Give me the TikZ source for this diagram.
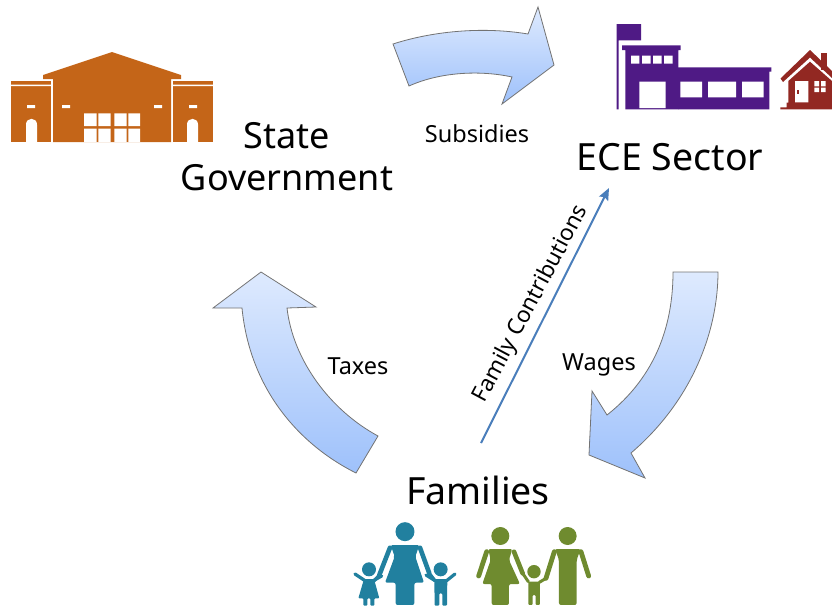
\documentclass[tikz,border=0pt]{standalone}
\usetikzlibrary{arrows.meta}
\usepackage{fontspec}
\setmainfont{Noto Sans}
\definecolor{stateorange}{HTML}{C46518}
\definecolor{schoolpurple}{HTML}{4F1A85}
\definecolor{housered}{HTML}{922822}
\definecolor{famteal}{HTML}{21809F}
\definecolor{famgreen}{HTML}{6F8B2F}
\definecolor{linkblue}{HTML}{4A7EBB}
\definecolor{arrowtop}{HTML}{DEEAFE}
\definecolor{arrowbot}{HTML}{9EC1FB}
\tikzset{
  bigarrow/.style={draw=black!55,line width=0.8pt,line join=miter,top color=arrowtop,bottom color=arrowbot},
  biglabel/.style={font=\fontsize{37.5}{42}\selectfont,align=center,text=black,inner sep=0pt},
  smalllabel/.style={font=\fontsize{23.5}{27}\selectfont,text=black,inner sep=0pt},
  limb/.style={line width=#1,line cap=round,line join=round},
  limb/.default=1.7pt
}
\begin{document}
\begin{tikzpicture}[x=1pt,y=-1pt]
\useasboundingbox (0,0) rectangle (832,608);
% block arrows
\path[bigarrow] (393,44) .. controls (430,32) and (480,26) .. (528,34) -- (538,7) -- (554,65) -- (502,104) -- (512,77) .. controls (480,70) and (440,72) .. (409,86) -- cycle;
\path[bigarrow] (673,272) -- (718,272) .. controls (718,330) and (693,400) .. (631,453) -- (645,478) -- (589,455) -- (592,391) -- (607,415) .. controls (645,385) and (673,340) .. (673,272) -- cycle;
\path[bigarrow] (261,272) -- (316,307) -- (287,308) .. controls (293,360) and (330,410) .. (378,436) -- (356,473) .. controls (300,445) and (250,390) .. (242,308) -- (213,308) -- cycle;
% labels
\node[biglabel,font=\fontsize{36}{42}\selectfont] (state) at (287,157) {State\\Government};
\node[biglabel] (ece) at (670,157) {ECE Sector};
\node[biglabel] (fam) at (478,490) {Families};
\node[smalllabel] (subs) at (477,134) {Subsidies};
\node[smalllabel] (tax) at (358,366) {Taxes};
\node[smalllabel] (wage) at (599,365) {Wages};
\coordinate (fcStart) at (481,443);
\coordinate (fcEnd) at (609,188);
\draw[linkblue,line width=2pt,-{Stealth[length=12pt,width=10pt,inset=2pt]}] (fcStart) -- (fcEnd);
\node[smalllabel,font=\fontsize{22.5}{27}\selectfont,rotate=62] (contrib) at (531,304) {Family Contributions};
% state building
\fill[stateorange] (43,75) -- (112,52) -- (181,75) -- (181,79) -- (171,79) -- (171,142) -- (53,142) -- (53,79) -- (43,79) -- cycle;
\fill[stateorange] (11,81) rectangle (51,142);
\fill[stateorange] (173,81) rectangle (213,142);
\fill[white] (11,84.5) rectangle (51,86) (173,84.5) rectangle (213,86);
\fill[white] (27,105) rectangle (35,108) (62,105) rectangle (70,108) (154,105) rectangle (162,108) (189,105) rectangle (197,108);
\fill[white] (26,142) -- (26,124.5) .. controls (26,117) and (37,117) .. (37,124.5) -- (37,142) -- cycle;
\fill[white] (187,142) -- (187,124.5) .. controls (187,117) and (198,117) .. (198,124.5) -- (198,142) -- cycle;
\fill[white] (84,113.3) rectangle (96.7,126) (98.3,113.3) rectangle (110.7,126) (114.3,113.3) rectangle (126.7,126) (128.3,113.3) rectangle (140,126);
\fill[white] (84,128.7) rectangle (96.7,142) (98.3,128.7) rectangle (110.7,142) (114.3,128.7) rectangle (126.7,142) (128.3,128.7) rectangle (140,142);
% school
\fill[schoolpurple] (616.7,24) rectangle (618.7,109.3) (616.7,24) rectangle (641,40.3);
\fill[schoolpurple] (622,45.3) rectangle (680.7,50) (625.3,50) rectangle (678.3,109.3);
\fill[schoolpurple] (678,67.3) rectangle (771.3,71.7) (678,71.7) rectangle (769.3,109.3);
\fill[white] (631,55.7) rectangle (639.3,63.7) (642,55.7) rectangle (650.7,63.7) (653,55.7) rectangle (661.7,63.7) (664,55.7) rectangle (672.7,63.7);
\fill[white] (639.3,81.7) rectangle (665.7,108) (680.3,81.7) rectangle (702,97.3) (708,81.7) rectangle (736,97.3) (742,81.7) rectangle (763.7,97.3);
% house
\fill[housered] (821,52.7) rectangle (827.3,70);
\fill[housered] (780.5,78.5) -- (810,50) -- (832,71) -- (832,78) -- (810,57.5) -- (783,82) -- cycle;
\fill[housered] (810,61.7) -- (788.3,81) -- (788.3,102.7) -- (786.7,102.7) -- (786.7,107.3) -- (780.3,107.3) -- (780.3,109.3) -- (832,109.3) -- (832,81) -- cycle;
\fill[white] (795,81) rectangle (808.3,102.3) (814.3,81) rectangle (819,86.3) (821,81) rectangle (825.7,86.3) (814.3,87.7) rectangle (819,92) (821,87.7) rectangle (825.7,92);
\fill[housered] (797.3,90) rectangle (799,94);
% family left (teal)
\begin{scope}[shift={(340,510)},x=0.3333pt,y=-0.3333pt]
\begin{scope}[famteal]
\fill (195,65) circle[radius=9.5pt];
\fill[rounded corners=2pt] (152,105) -- (238,105) -- (226,140) -- (252,218) -- (223,218) -- (223,285) -- (167,285) -- (167,218) -- (135,218) -- (164,140) -- cycle;
\draw[limb=4.6pt] (150,113) -- (118,195);
\draw[limb=4.6pt] (240,113) -- (268,190);
\draw[limb=3.2pt] (118,195) -- (100,215);
\draw[limb=3.2pt] (268,190) -- (285,212);
\fill (87,178) circle[radius=7pt];
\fill[rounded corners=1pt] (72,207) -- (102,207) -- (118,265) -- (103,265) -- (103,287) -- (91,287) -- (91,265) -- (82,265) -- (82,287) -- (70,287) -- (70,265) -- (55,265) -- cycle;
\draw[limb=3.2pt] (75,212) -- (45,192);
\draw[limb=3.2pt] (100,212) -- (125,198);
\fill (302,178) circle[radius=7pt];
\fill[rounded corners=1pt] (283,207) -- (322,207) -- (321,287) -- (307,287) -- (307,250) -- (298,250) -- (298,287) -- (284,287) -- cycle;
\draw[limb=3.2pt] (285,212) -- (258,195);
\draw[limb=3.2pt] (320,212) -- (345,192);
\end{scope}
% family right (green)
\begin{scope}[famgreen]
\fill (481,78) circle[radius=9pt];
\fill[rounded corners=2pt] (445,117) -- (517,117) -- (507,150) -- (540,222) -- (507,222) -- (507,285) -- (455,285) -- (455,222) -- (427,222) -- (452,150) -- cycle;
\draw[limb=4.8pt] (440,125) -- (416,198);
\draw[limb=4.6pt] (522,125) -- (548,190);
\draw[limb=3pt] (548,190) -- (565,215);
\fill (582,185) circle[radius=6.7pt];
\fill[rounded corners=1pt] (565,215) -- (600,215) -- (600,285) -- (587,285) -- (587,255) -- (578,255) -- (578,285) -- (565,285) -- cycle;
\draw[limb=3pt] (598,217) -- (618,205);
\fill (683,78) circle[radius=9pt];
\fill[rounded corners=2pt] (645,117) -- (722,117) -- (710,150) -- (710,285) -- (657,285) -- (657,150) -- cycle;
\draw[limb=4.8pt] (643,125) -- (618,205);
\draw[limb=4.8pt] (723,125) -- (746,198);
\end{scope}
\end{scope}
\end{tikzpicture}
\end{document}
